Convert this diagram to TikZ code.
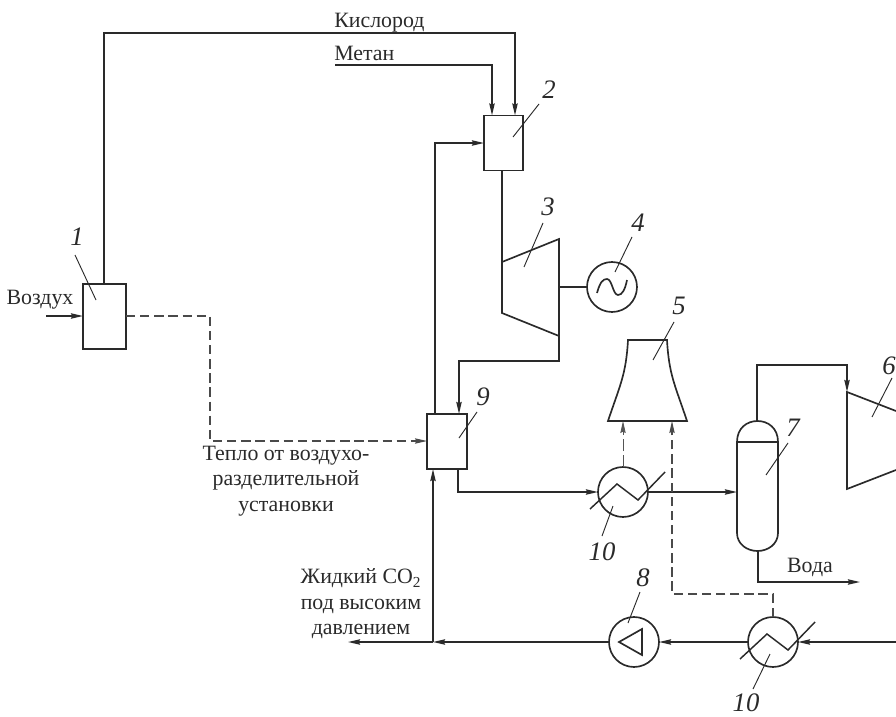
\documentclass[tikz,border=0pt]{standalone}
\usepackage{fontspec}
\setmainfont{Liberation Serif}
\usetikzlibrary{arrows.meta,calc}
\definecolor{ink}{HTML}{2A2A2A}
\tikzset{
  x=0.75pt,y=-0.75pt,
  pipe/.style={draw=ink,line width=1.25pt},
  flow/.style={pipe,-{Stealth[length=9pt,width=4pt,inset=1pt]}},
  heat/.style={draw=ink!85,line width=0.8pt,dash pattern=on 7pt off 3.6pt},
  heatflow/.style={heat,-{Stealth[length=9pt,width=4pt,inset=1pt]}},
  thinheat/.style={draw=ink!80,line width=0.6pt,dash pattern=on 9pt off 3pt,-{Stealth[length=9pt,width=4pt,inset=1pt]}},
  unitbox/.style={draw=ink,line width=1.35pt,rectangle,inner sep=0pt,outer sep=0pt},
  round unit/.style={draw=ink,line width=1.25pt,circle,inner sep=0pt,outer sep=0pt,minimum size=37.5pt},
  leader/.style={draw=ink,line width=0.7pt},
  num/.style={font=\fontsize{20}{20}\selectfont\itshape,text=ink,inner sep=0pt},
  lbl/.style={font=\fontsize{16.4}{19.1}\selectfont,text=ink,inner sep=0pt,align=center}
}
\begin{document}
\begin{tikzpicture}
\useasboundingbox (0,0) rectangle (896,717);
% units
\node[unitbox,minimum width=32.25pt,minimum height=48.75pt] (b1) at (104.5,316.5) {};
\node[unitbox,minimum width=29.25pt,minimum height=41.25pt] (b2) at (503.5,143) {};
\node[unitbox,minimum width=30pt,minimum height=41.25pt] (b9) at (447,441.5) {};
\node[round unit] (g4) at (612,287) {};
\node[round unit] (hx1) at (623,492) {};
\node[round unit] (hx2) at (773,642) {};
\node[round unit] (p8) at (634,642) {};
% named points
\coordinate (o2a) at (104,33);
\coordinate (o2b) at (515,33);
\coordinate (ch4a) at (335,65);
\coordinate (ch4b) at (492,65);
\coordinate (recirc) at (435,143);
\coordinate (t3a) at (502,262);
\coordinate (t3b) at (559,239);
\coordinate (t3c) at (559,336);
\coordinate (t3d) at (502,313);
\coordinate (t3out) at (559,361);
\coordinate (into9) at (459,361);
\coordinate (out9) at (458,492);
\coordinate (c7w) at (737,492);
\coordinate (c7top) at (757,421);
\coordinate (c7bot) at (758,551);
\coordinate (t6a) at (847,392);
\coordinate (t6b) at (847,489);
\coordinate (over) at (757,365);
\coordinate (overb) at (847,365);
\coordinate (waterc) at (758,582);
\coordinate (watere) at (860,582);
\coordinate (airs) at (46,316);
\coordinate (heata) at (210,316);
\coordinate (heatb) at (210,441);
\coordinate (cold) at (896,642);
\coordinate (junc) at (433,642);
\coordinate (co2e) at (348,642);
\coordinate (tw1) at (623,421);
\coordinate (tw2) at (672,421);
\coordinate (hd1) at (672,594);
\coordinate (hd2) at (773,594);
% unit 3
\draw[pipe,line join=miter] (t3a) -- (t3b) -- (t3c) -- (t3d) -- cycle;
% unit 5
\draw[pipe,line join=miter] (628,340) -- (667,340) .. controls (669,375) and (675,385) .. (687,421) -- (608,421) .. controls (620,385) and (626,375) .. (628,340) -- cycle;
% unit 6
\draw[pipe] (896,411) -- (t6a) -- (t6b) -- (896,470);
% unit 7
\draw[pipe] (737,442) .. controls (737,428) and (747,421) .. (757.5,421) .. controls (768,421) and (778,428) .. (778,442) -- (778,533) .. controls (778,544) and (768,551) .. (757.5,551) .. controls (747,551) and (737,544) .. (737,533) -- cycle;
\draw[pipe] (737,442) -- (778,442);
% generator sine
\draw[pipe] (597,293) .. controls (600,282) and (603,279) .. (607,279) .. controls (612,279) and (613,295) .. (618,295) .. controls (622,295) and (625,290) .. (627,280);
% pump triangle
\draw[pipe,line join=miter] (619,642) -- (642,629) -- (642,655) -- cycle;
% exchanger coils
\draw[pipe,line width=1.1pt] (hx1.center) ++(-33,17) -- ++(27,-25) -- ++(21,16) -- ++(27,-28);
\draw[pipe,line width=1.1pt] (hx2.center) ++(-33,17) -- ++(27,-25) -- ++(21,16) -- ++(27,-28);
% process lines
\draw[flow] (b1.north -| o2a) -- (o2a) -- (o2b) -- (o2b |- b2.north);
\draw[flow] (ch4a) -- (ch4b) -- (ch4b |- b2.north);
\draw[flow] (recirc |- b9.north) -- (recirc) -- (recirc -| b2.west);
\draw[pipe] (b2.south -| t3a) -- (t3a);
\draw[pipe] (t3c |- g4) -- (g4.west);
\draw[flow] (t3c) -- (t3out) -- (into9) -- (into9 |- b9.north);
\draw[flow] (b9.south -| out9) -- (out9) -- (hx1.west);
\draw[flow] (hx1.east) -- (c7w);
\draw[flow] (c7top) -- (over) -- (overb) -- (t6a);
\draw[flow] (c7bot) -- (waterc) -- (watere);
\draw[flow] (airs) -- (airs -| b1.west);
\draw[flow] (cold) -- (hx2.east);
\draw[flow] (hx2.west) -- (p8.east);
\draw[flow] (p8.west) -- (junc);
\draw[flow] (junc) -- (co2e);
\draw[flow] (junc) -- (junc |- b9.south);
% heat lines
\draw[heatflow] (b1.east |- heata) -- (heata) -- (heatb) -- (heatb -| b9.west);
\draw[thinheat] (hx1.north) -- (tw1);
\draw[heat,-{Stealth[length=9pt,width=4pt,inset=1pt]}] (hx2.north) -- (hd2) -- (hd1) -- (tw2);
% leaders and numbers
\node[num] (n1) at (77,237) {1};
\draw[leader] (75,255) -- (96,300);
\node[num] (n2) at (549,90) {2};
\draw[leader] (539,104) -- (513,137);
\node[num] (n3) at (548,207) {3};
\draw[leader] (543,223) -- (524,267);
\node[num] (n4) at (638,223) {4};
\draw[leader] (632,237) -- (615,272);
\node[num] (n5) at (679,306) {5};
\draw[leader] (674,322) -- (653,360);
\node[num] (n6) at (889,366) {6};
\draw[leader] (892,378) -- (872,417);
\node[num] (n7) at (793,428) {7};
\draw[leader] (788,443) -- (766,475);
\node[num] (n8) at (643,578) {8};
\draw[leader] (640,592) -- (628,623);
\node[num] (n9) at (483,397) {9};
\draw[leader] (477,412) -- (459,438);
\node[num] (n10a) at (602,552) {10};
\draw[leader] (613,506) -- (602,536);
\node[num] (n10b) at (746,703) {10};
\draw[leader] (770,654) -- (753,689);
% labels
\node[lbl] (tvozd) at (40,300) {Воздух};
\node[lbl,anchor=west] (to2) at (334,23) {Кислород};
\node[lbl,anchor=west] (tch4) at (334,53) {Метан};
\node[lbl] (theat) at (286,481) {Тепло от воздухо-\\разделительной\\установки};
\node[lbl] (tco2) at (361,604) {Жидкий CO\textsubscript{2}\\под высоким\\давлением};
\node[lbl] (twater) at (810,567) {Вода};
\end{tikzpicture}
\end{document}
